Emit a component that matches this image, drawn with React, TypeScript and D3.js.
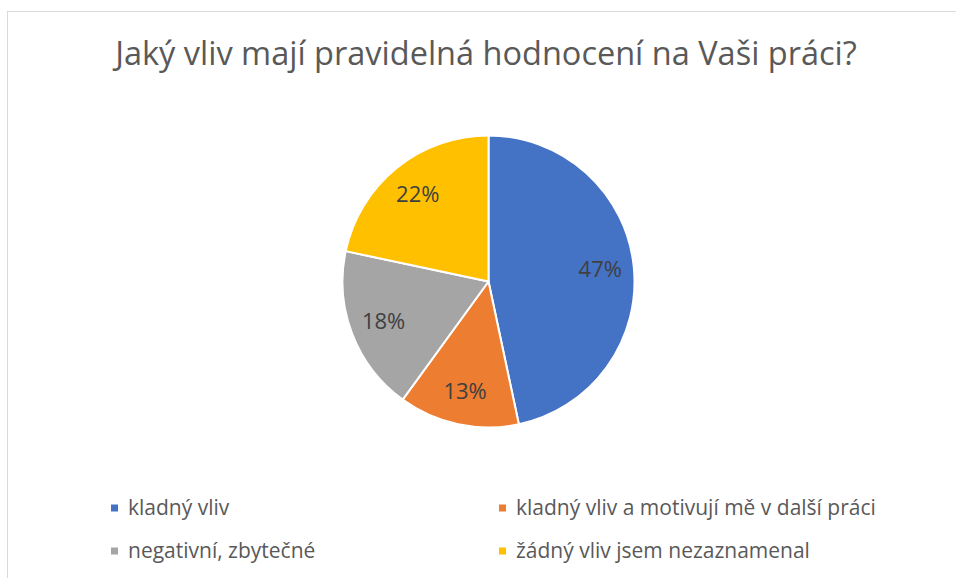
import React from "react";
import * as d3 from "d3";

const title = "Jaký vliv mají pravidelná hodnocení na Vaši práci?";
const categories = [
  "kladný vliv",
  "kladný vliv a motivují mě v další práci",
  "negativní, zbytečné",
  "žádný vliv jsem nezaznamenal",
];
const counts = [28, 8, 11, 13];
const colors = ["#4472C4", "#ED7D31", "#A5A5A5", "#FFC000"];

const W = 956;
const H = 578;
const FONT = "'Open Sans', 'Noto Sans', sans-serif";
const TEXT = "#595959";

export default function App() {
  const cx = 488.5;
  const cy = 281.5;
  const r = 146;
  const total = d3.sum(counts);
  const pie = d3
    .pie<number>()
    .sort(null)
    .value((d) => d)
    .startAngle(0)
    .endAngle(2 * Math.PI);
  const arcs = pie(counts);
  const arc = d3.arc<d3.PieArcDatum<number>>().innerRadius(0).outerRadius(r);
  const labelArc = d3
    .arc<d3.PieArcDatum<number>>()
    .innerRadius(r * 0.77)
    .outerRadius(r * 0.77);
  const fmt = d3.format(".0%");

  const colX = d3.scaleOrdinal<number, number>().domain([0, 1]).range([111, 499]);
  const rowY = d3.scaleOrdinal<number, number>().domain([0, 1]).range([508, 551]);

  return (
    <svg
      width={W}
      height={H}
      style={{ position: "absolute", left: 0, top: 0, background: "#fff" }}
      fontFamily={FONT}
    >
      <rect x={7.5} y={11.5} width={W} height={H} fill="#fff" stroke="#D9D9D9" strokeWidth={1} />
      <text x={486} y={65} textAnchor="middle" fontSize={32.5} fill={TEXT}>
        {title}
      </text>
      <g transform={`translate(${cx},${cy})`}>
        {arcs.map((a, i) => (
          <path key={i} d={arc(a) || ""} fill={colors[i]} stroke="#fff" strokeWidth={2} strokeLinejoin="round" />
        ))}
        {arcs.map((a, i) => {
          const [x, y] = labelArc.centroid(a);
          return (
            <text key={i} x={x} y={y} dy="0.35em" textAnchor="middle" fontSize={22} fill="#404040">
              {fmt(a.data / total)}
            </text>
          );
        })}
      </g>
      {categories.map((c, i) => {
        const x = colX(i % 2);
        const y = rowY(Math.floor(i / 2));
        return (
          <g key={i}>
            <rect x={x} y={y - 3.5} width={7} height={7} fill={colors[i]} />
            <text x={x + 17} y={y} dy="0.35em" fontSize={21} fill={TEXT}>
              {c}
            </text>
          </g>
        );
      })}
    </svg>
  );
}
